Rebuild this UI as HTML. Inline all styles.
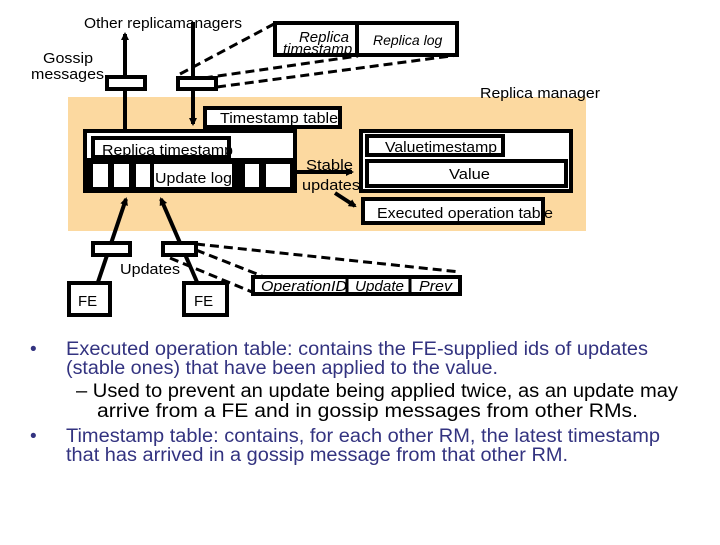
<!DOCTYPE html>
<html><head><style>
body{margin:0;background:#fff;width:720px;height:540px;overflow:hidden}
svg text{font-family:"Liberation Sans",sans-serif}
</style></head><body>
<svg width="720" height="540" xmlns="http://www.w3.org/2000/svg">
<defs><marker id="a" markerWidth="8" markerHeight="8" refX="6" refY="4" orient="auto" markerUnits="userSpaceOnUse"><path d="M0,0 L8,4 L0,8z" fill="#000"/></marker>
<clipPath id="c1"><rect x="277" y="25" width="78" height="28"/></clipPath></defs>
<rect x="68" y="97" width="518" height="134" fill="#fcd9a0"/>
<g font-size="15" fill="#000" lengthAdjust="spacingAndGlyphs">
<text x="84" y="28" textLength="158" lengthAdjust="spacingAndGlyphs">Other replicamanagers</text>
<text x="43" y="63" textLength="50" lengthAdjust="spacingAndGlyphs">Gossip</text>
<text x="31" y="79" textLength="73" lengthAdjust="spacingAndGlyphs">messages</text>
<text x="480" y="98" textLength="120" lengthAdjust="spacingAndGlyphs">Replica manager</text>
</g>
<g stroke="#000" stroke-width="4" fill="none">
<line x1="125" y1="130" x2="125" y2="34" marker-end="url(#a)"/>
<line x1="193" y1="22" x2="193" y2="124" marker-end="url(#a)"/>
<line x1="98" y1="282" x2="126" y2="199" marker-end="url(#a)"/>
<line x1="197" y1="282" x2="161" y2="199" marker-end="url(#a)"/>
<line x1="296" y1="172" x2="352" y2="172" marker-end="url(#a)"/>
<line x1="335" y1="193" x2="355" y2="206" marker-end="url(#a)"/>
</g>
<g stroke="#000" stroke-width="3" stroke-dasharray="9,5" fill="none">
<line x1="180" y1="74" x2="274" y2="24"/>
<line x1="190" y1="80" x2="358" y2="56"/>
<line x1="217" y1="87" x2="458" y2="55"/>
<line x1="196" y1="244" x2="460" y2="272"/>
<line x1="196" y1="250" x2="262" y2="276"/>
<line x1="170" y1="258" x2="252" y2="292"/>
</g>
<g stroke="#000" stroke-width="4" fill="#fff">
<rect x="107" y="77" width="38" height="12"/>
<rect x="178" y="78" width="38" height="11"/>
<rect x="93" y="243" width="37" height="12"/>
<rect x="163" y="243" width="33" height="12"/>
<rect x="275" y="23" width="82" height="32"/>
<rect x="357" y="23" width="100" height="32"/>
<rect x="205" y="108" width="135" height="19"/>
<rect x="85" y="131" width="210" height="60"/>
<rect x="361" y="131" width="210" height="60"/>
<rect x="363" y="199" width="180" height="24"/>
<rect x="69" y="283" width="41" height="32"/>
<rect x="184" y="283" width="43" height="32"/>
<rect x="253" y="277" width="207" height="17"/>
</g>
<rect x="85" y="158" width="210" height="33" fill="#000"/>
<g fill="#fff">
<rect x="93" y="164" width="15" height="23"/><rect x="114" y="164" width="15" height="23"/><rect x="136" y="164" width="14" height="23"/>
<rect x="154" y="164" width="78" height="23"/>
<rect x="245" y="164" width="14" height="23"/><rect x="266" y="164" width="24" height="23"/>
</g>
<g stroke="#000" stroke-width="4" fill="#fff">
<rect x="93" y="138" width="136" height="19"/>
<rect x="367" y="136" width="136" height="19"/>
<rect x="367" y="161" width="199" height="25"/>
</g>
<g stroke="#000" stroke-width="3"><line x1="347" y1="277" x2="347" y2="294"/><line x1="410" y1="277" x2="410" y2="294"/></g>
<g font-size="15" fill="#000">
<g clip-path="url(#c1)">
<text x="349" y="42" font-style="italic" text-anchor="end">Replica</text>
<text x="283" y="54" font-style="italic">timestamp</text>
</g>
<text x="373" y="45" font-style="italic" font-size="14">Replica log</text>
<text x="220" y="123" textLength="118" lengthAdjust="spacingAndGlyphs">Timestamp table</text>
<text x="102" y="155" textLength="131" lengthAdjust="spacingAndGlyphs">Replica timestamp</text>
<text x="155" y="183" textLength="77" lengthAdjust="spacingAndGlyphs">Update log</text>
<text x="306" y="170" textLength="47" lengthAdjust="spacingAndGlyphs">Stable</text>
<text x="302" y="190" textLength="58" lengthAdjust="spacingAndGlyphs">updates</text>
<text x="385" y="152" textLength="112" lengthAdjust="spacingAndGlyphs">Valuetimestamp</text>
<text x="449" y="179" textLength="41" lengthAdjust="spacingAndGlyphs">Value</text>
<text x="377" y="218" textLength="176" lengthAdjust="spacingAndGlyphs">Executed operation table</text>
<text x="120" y="274" textLength="60" lengthAdjust="spacingAndGlyphs">Updates</text>
<text x="78" y="306">FE</text>
<text x="194" y="306">FE</text>
<text x="261" y="291" font-style="italic" textLength="86" lengthAdjust="spacingAndGlyphs">OperationID</text>
<text x="355" y="291" font-style="italic" textLength="49" lengthAdjust="spacingAndGlyphs">Update</text>
<text x="419" y="291" font-style="italic" textLength="33" lengthAdjust="spacingAndGlyphs">Prev</text>
</g>
<g font-size="19" fill="#000">
<text x="30" y="355" fill="#333380">•</text>
<text x="66" y="355" fill="#333380" textLength="582" lengthAdjust="spacingAndGlyphs">Executed operation table: contains the FE-supplied ids of updates</text>
<text x="66" y="374" fill="#333380" textLength="432" lengthAdjust="spacingAndGlyphs">(stable ones) that have been applied to the value.</text>
<text x="76" y="397" textLength="602" lengthAdjust="spacingAndGlyphs">– Used to prevent an update being applied twice, as an update may</text>
<text x="97" y="417" textLength="541" lengthAdjust="spacingAndGlyphs">arrive from a FE and in gossip messages from other RMs.</text>
<text x="30" y="442" fill="#333380">•</text>
<text x="66" y="442" fill="#333380" textLength="594" lengthAdjust="spacingAndGlyphs">Timestamp table: contains, for each other RM, the latest timestamp</text>
<text x="66" y="461" fill="#333380" textLength="502" lengthAdjust="spacingAndGlyphs">that has arrived in a gossip message from that other RM.</text>
</g>
</svg>
</body></html>
